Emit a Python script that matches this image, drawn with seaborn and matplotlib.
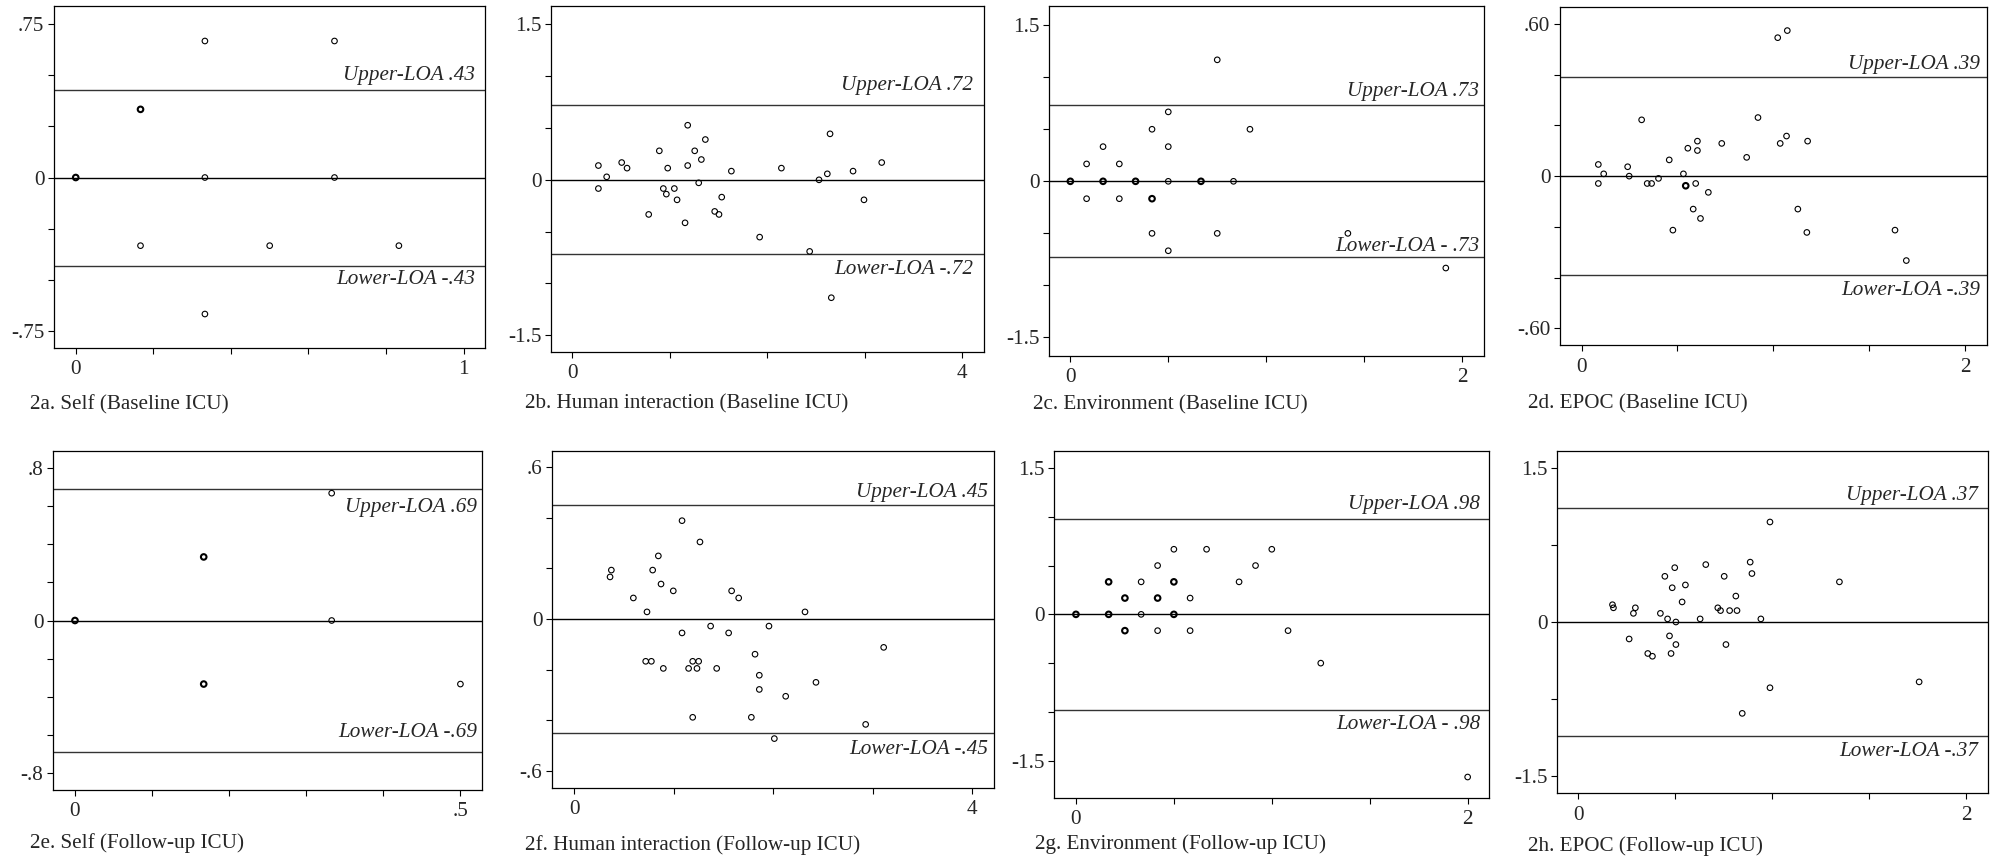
import matplotlib
matplotlib.use("Agg")
import matplotlib.pyplot as plt
import pandas as pd
import seaborn as sns

# 2a. Self (Baseline ICU)
self_base_x = [0, 0, 0, 0.167, 0.167, 0.333, 0.667, 0.333, 0.667, 0.167, 0.5, 0.833, 0.333]
self_base_y = [0, 0, 0, 0.333, 0.333, 0.667, 0.667, 0, 0, -0.333, -0.333, -0.333, -0.667]

# 2b. Human interaction (Baseline ICU)
human_base_x = [0.267, 0.267, 0.352, 0.506, 0.561, 0.783, 0.892, 0.933, 0.964, 0.978, 1.046,
                1.074, 1.156, 1.183, 1.183, 1.255, 1.296, 1.323, 1.364, 1.460, 1.504, 1.532,
                1.631, 1.921, 2.144, 2.434, 2.530, 2.615, 2.643, 2.656, 2.879, 2.991, 3.173]
human_base_y = [0.138, -0.084, 0.029, 0.167, 0.113, -0.334, 0.280, -0.084, -0.138, 0.113, -0.084,
                -0.193, -0.415, 0.527, 0.138, 0.280, -0.029, 0.196, 0.389, -0.305, -0.334, -0.167,
                0.084, -0.553, 0.113, -0.691, 0.0, 0.058, 0.444, -1.138, 0.084, -0.193, 0.167]

# 2c. Environment (Baseline ICU)
env_base_x = [0, 0, 0, 0.083, 0.083, 0.167, 0.167, 0.167, 0.25, 0.25, 0.333, 0.333, 0.417, 0.417,
              0.417, 0.417, 0.5, 0.5, 0.5, 0.5, 0.667, 0.667, 0.75, 0.75, 0.833, 0.917, 1.417, 1.917]
env_base_y = [0, 0, 0, 0.167, -0.167, 0.333, 0, 0, 0.167, -0.167, 0, 0, 0.5, -0.167,
              -0.167, -0.5, 0.667, 0.333, 0, -0.667, 0, 0, 1.167, -0.5, 0, 0.5, -0.5, -0.833]

# 2d. EPOC (Baseline ICU)
epoc_base_x = [0.087, 0.087, 0.115, 0.240, 0.248, 0.313, 0.342, 0.365, 0.401, 0.457, 0.476,
               0.531, 0.543, 0.543, 0.554, 0.582, 0.595, 0.604, 0.604, 0.620, 0.661, 0.731,
               0.861, 0.920, 1.023, 1.036, 1.069, 1.073, 1.128, 1.175, 1.179, 1.635, 1.694]
epoc_base_y = [0.046, -0.029, 0.009, 0.037, 0.0, 0.222, -0.029, -0.029, -0.009, 0.064, -0.213,
               0.009, -0.038, -0.038, 0.110, -0.130, -0.029, 0.138, 0.101, -0.167, -0.064, 0.129,
               0.074, 0.231, 0.546, 0.129, 0.158, 0.574, -0.130, -0.222, 0.138, -0.213, -0.333]

# 2e. Self (Follow-up ICU)
self_fu_x = [0, 0, 0, 0.167, 0.167, 0.167, 0.167, 0.333, 0.333, 0.5]
self_fu_y = [0, 0, 0, 0.333, 0.333, -0.333, -0.333, 0.667, 0, -0.333]

# 2f. Human interaction (Follow-up ICU)
human_fu_x = [0.362, 0.375, 0.596, 0.720, 0.733, 0.777, 0.790, 0.847, 0.874, 0.897, 0.997, 1.085,
              1.085, 1.151, 1.192, 1.192, 1.235, 1.252, 1.265, 1.372, 1.433, 1.553, 1.583, 1.654,
              1.781, 1.818, 1.861, 1.861, 1.958, 2.012, 2.126, 2.320, 2.430, 2.929, 3.110]
human_fu_y = [0.166, 0.193, 0.083, -0.167, 0.028, -0.167, 0.193, 0.249, 0.138, -0.195, 0.111, 0.388,
              -0.055, -0.195, -0.167, -0.388, -0.195, -0.167, 0.304, -0.028, -0.195, -0.055, 0.111, 0.083,
              -0.388, -0.139, -0.222, -0.278, -0.028, -0.472, -0.305, 0.028, -0.250, -0.416, -0.112]

# 2g. Environment (Follow-up ICU)
env_fu_x = [0, 0, 0, 0.167, 0.167, 0.167, 0.167, 0.25, 0.25, 0.25, 0.25, 0.333, 0.333, 0.417,
            0.417, 0.417, 0.417, 0.5, 0.5, 0.5, 0.5, 0.5, 0.583, 0.583, 0.667, 0.833, 0.917,
            1.0, 1.083, 1.25, 2.0]
env_fu_y = [0, 0, 0, 0.333, 0.333, 0, 0, 0.167, 0.167, -0.167, -0.167, 0.333, 0, 0.5,
            0.167, 0.167, -0.167, 0.667, 0.333, 0.333, 0, 0, 0.167, -0.167, 0.667, 0.333, 0.5,
            0.667, -0.167, -0.5, -1.667]

# 2h. EPOC (Follow-up ICU)
epoc_fu_x = [0.176, 0.181, 0.262, 0.284, 0.294, 0.358, 0.382, 0.423, 0.446, 0.460, 0.470, 0.478,
             0.484, 0.497, 0.503, 0.503, 0.535, 0.552, 0.628, 0.657, 0.719, 0.733, 0.752, 0.761,
             0.780, 0.812, 0.818, 0.845, 0.886, 0.895, 0.941, 0.988, 0.988, 1.346, 1.757]
epoc_fu_y = [0.056, 0.046, -0.055, 0.028, 0.046, -0.102, -0.111, 0.028, 0.148, 0.010, -0.045, -0.102,
             0.111, 0.176, 0.0, -0.073, 0.065, 0.120, 0.010, 0.186, 0.046, 0.037, 0.148, -0.073,
             0.037, 0.084, 0.037, -0.296, 0.194, 0.157, 0.010, 0.324, -0.213, 0.130, -0.194]

captions = ["2a. Self (Baseline ICU)", "2b. Human interaction (Baseline ICU)",
            "2c. Environment (Baseline ICU)", "2d. EPOC (Baseline ICU)",
            "2e. Self (Follow-up ICU)", "2f. Human interaction (Follow-up ICU)",
            "2g. Environment (Follow-up ICU)", "2h. EPOC (Follow-up ICU)"]
loa_values = [0.43, 0.72, 0.73, 0.39, 0.69, 0.45, 0.98, 0.37]
upper_labels = ["Upper-LOA .43", "Upper-LOA .72", "Upper-LOA .73", "Upper-LOA .39",
                "Upper-LOA .69", "Upper-LOA .45", "Upper-LOA .98", "Upper-LOA .37"]
lower_labels = ["Lower-LOA -.43", "Lower-LOA -.72", "Lower-LOA - .73", "Lower-LOA -.39",
                "Lower-LOA -.69", "Lower-LOA -.45", "Lower-LOA - .98", "Lower-LOA -.37"]

series = [(self_base_x, self_base_y), (human_base_x, human_base_y), (env_base_x, env_base_y),
          (epoc_base_x, epoc_base_y), (self_fu_x, self_fu_y), (human_fu_x, human_fu_y),
          (env_fu_x, env_fu_y), (epoc_fu_x, epoc_fu_y)]

# axis scales: (ticks, labels)
x_axes = [
    ([0, .2, .4, .6, .8, 1], ["0", "", "", "", "", "1"]),
    ([0, 1, 2, 3, 4], ["0", "", "", "", "4"]),
    ([0, .5, 1, 1.5, 2], ["0", "", "", "", "2"]),
    ([0, .5, 1, 1.5, 2], ["0", "", "", "", "2"]),
    ([0, .1, .2, .3, .4, .5], ["0", "", "", "", "", ".5"]),
    ([0, 1, 2, 3, 4], ["0", "", "", "", "4"]),
    ([0, .5, 1, 1.5, 2], ["0", "", "", "", "2"]),
    ([0, .5, 1, 1.5, 2], ["0", "", "", "", "2"]),
]
y_axes = [
    ([-.75, -.5, -.25, 0, .25, .5, .75], ["-.75", "", "", "0", "", "", ".75"]),
    ([-1.5, -1, -.5, 0, .5, 1, 1.5], ["-1.5", "", "", "0", "", "", "1.5"]),
    ([-1.5, -1, -.5, 0, .5, 1, 1.5], ["-1.5", "", "", "0", "", "", "1.5"]),
    ([-.6, -.4, -.2, 0, .2, .4, .6], ["-.60", "", "", "0", "", "", ".60"]),
    ([-.8, -.6, -.4, -.2, 0, .2, .4, .6, .8], ["-.8", "", "", "", "0", "", "", "", ".8"]),
    ([-.6, -.4, -.2, 0, .2, .4, .6], ["-.6", "", "", "0", "", "", ".6"]),
    ([-1.5, -1, -.5, 0, .5, 1, 1.5], ["-1.5", "", "", "0", "", "", "1.5"]),
    ([-.5, -.25, 0, .25, .5], ["-1.5", "", "0", "", "1.5"]),
]

# layout in pixels of the 1995x861 canvas
W, H = 1995, 861
boxes = [(54, 6, 485, 348), (551, 6, 984, 352), (1049, 6, 1484, 356), (1560, 7, 1987, 345),
         (53, 451, 482, 790), (552, 451, 994, 788), (1054, 451, 1489, 798), (1557, 451, 1988, 793)]
xlims = [(-0.056, 1.055), (-0.219, 4.222), (-0.109, 2.112), (-0.113, 2.115),
         (-0.0285, 0.528), (-0.221, 4.218), (-0.112, 2.109), (-0.110, 2.112)]
ylims = [(-0.833, 0.838), (-1.662, 1.678), (-1.678, 1.684), (-0.666, 0.667),
         (-0.888, 0.888), (-0.667, 0.663), (-1.882, 1.674), (-0.554, 0.554)]
caption_pos = [(30, 405), (525, 404), (1033, 405), (1528, 404),
               (30, 843), (525, 845), (1035, 844), (1528, 846)]
# label baseline offset from its line in px (positive = above), right padding in px
upper_dy = [10, 15, 9, 8, -23, 8, 10, 8]
lower_dy = [-18, -20, 6, -20, 15, -21, -19, -20]
right_pad = [10, 11, 5, 7, 5, 6, 9, 10]

sns.set_theme(style="white")
plt.rcParams["font.family"] = ["Liberation Serif", "DejaVu Serif"]
FS = 15.2
PX = 72 / 100

fig = plt.figure(figsize=(W / 100, H / 100), dpi=100)

for i, (xs, ys) in enumerate(series):
    l, t, r, b = boxes[i]
    ax = fig.add_axes([l / W, 1 - b / H, (r - l) / W, (b - t) / H])
    df = pd.DataFrame({"x": xs, "y": ys})
    counts = df.groupby(["x", "y"]).size().rename("n").reset_index()
    single = counts[counts["n"] == 1]
    multi = counts[counts["n"] > 1]
    sns.scatterplot(data=single, x="x", y="y", ax=ax, marker="o", s=16,
                    facecolor="none", edgecolor="black", linewidth=0.8, zorder=3)
    sns.scatterplot(data=multi, x="x", y="y", ax=ax, marker="o", s=16,
                    facecolor="none", edgecolor="black", linewidth=1.5, zorder=3)

    loa = loa_values[i]
    ax.axhline(0, color="black", lw=1.0, zorder=2)
    ax.axhline(loa, color="#333333", lw=1.0, zorder=2)
    ax.axhline(-loa, color="#333333", lw=1.0, zorder=2)
    ax.annotate(upper_labels[i], xy=(1, loa), xycoords=("axes fraction", "data"),
                xytext=(-right_pad[i] * PX, upper_dy[i] * PX), textcoords="offset points",
                ha="right", va="baseline", fontsize=FS, style="italic")
    ax.annotate(lower_labels[i], xy=(1, -loa), xycoords=("axes fraction", "data"),
                xytext=(-right_pad[i] * PX, lower_dy[i] * PX), textcoords="offset points",
                ha="right", va="baseline", fontsize=FS, style="italic")

    ax.set_xlim(*xlims[i])
    ax.set_ylim(*ylims[i])
    ax.set_xticks(x_axes[i][0])
    ax.set_xticklabels(x_axes[i][1])
    ax.set_yticks(y_axes[i][0])
    ax.set_yticklabels(y_axes[i][1])
    ax.set_xlabel("")
    ax.set_ylabel("")
    ax.tick_params(axis="both", which="major", direction="out", length=4, width=0.8,
                   color="black", labelsize=FS, left=True, bottom=True)
    ax.tick_params(axis="x", pad=5)
    ax.tick_params(axis="y", pad=3)
    for sp in ax.spines.values():
        sp.set_color("black")
        sp.set_linewidth(0.9)
    ax.grid(False)

    cx, cy = caption_pos[i]
    fig.text(cx / W, 1 - cy / H, captions[i], ha="left", va="center", fontsize=FS)

fig.savefig("out.png", dpi=100, facecolor="white")
